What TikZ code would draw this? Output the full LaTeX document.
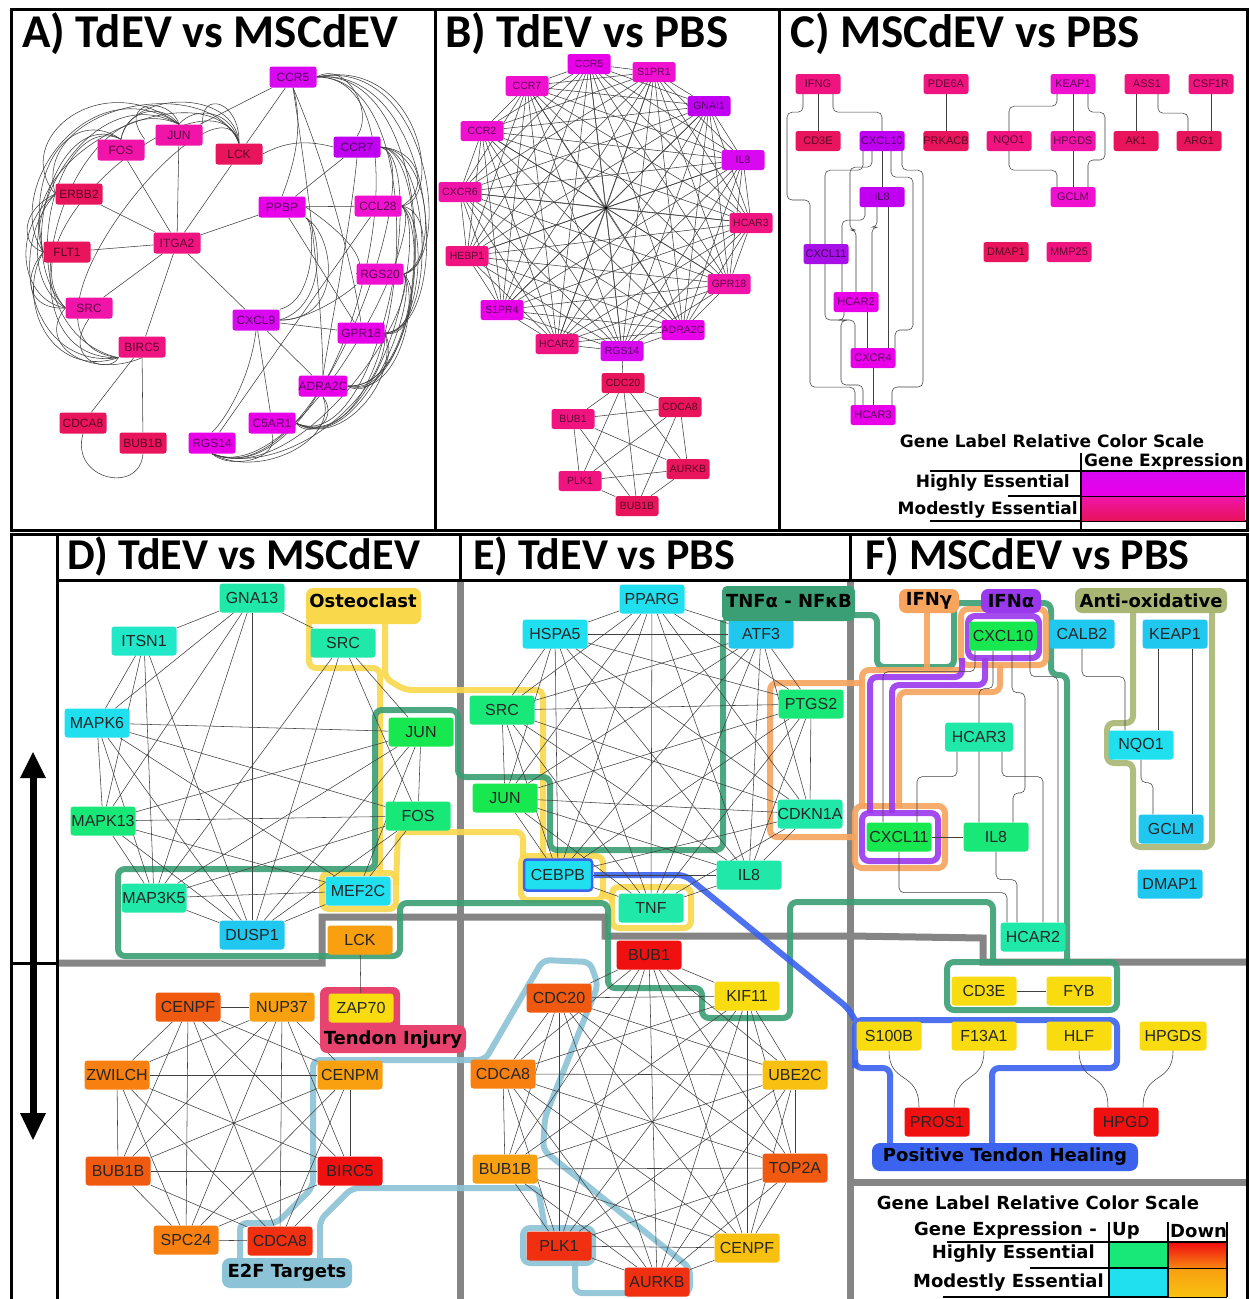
\documentclass[tikz,border=0pt]{standalone}
\usepackage{fontspec}
\setmainfont{Liberation Sans}
\newfontfamily\ttlfont{Carlito}
\newfontfamily\lblfont{DejaVu Sans}
\usetikzlibrary{calc}
\pgfdeclarelayer{bg}
\pgfdeclarelayer{hl}
\pgfdeclarelayer{edges}
\pgfsetlayers{bg,hl,edges,main}
% magenta scale
\definecolor{m0}{HTML}{A810E8}
\definecolor{m1}{HTML}{C000F0}
\definecolor{m2}{HTML}{D808F0}
\definecolor{m3}{HTML}{E800E8}
\definecolor{m4}{HTML}{F010D0}
\definecolor{m5}{HTML}{F014A8}
\definecolor{m6}{HTML}{F01480}
\definecolor{m7}{HTML}{E8145C}
% up scale
\definecolor{uG}{HTML}{18E850}
\definecolor{uG2}{HTML}{18E878}
\definecolor{uT}{HTML}{20E8A8}
\definecolor{uT2}{HTML}{20E8C8}
\definecolor{uC}{HTML}{20E0F0}
\definecolor{uB}{HTML}{20C8F0}
% down scale
\definecolor{dR}{HTML}{F01010}
\definecolor{dR2}{HTML}{F03010}
\definecolor{dO}{HTML}{F05A10}
\definecolor{dO2}{HTML}{F88010}
\definecolor{dO3}{HTML}{F8A010}
\definecolor{dY}{HTML}{F8C010}
\definecolor{dY2}{HTML}{F8DC10}
% highlight colours
\definecolor{yel}{HTML}{F9D84C}
\definecolor{grn}{HTML}{3A9F74}
\definecolor{org}{HTML}{F6A45E}
\definecolor{pur}{HTML}{9A38EE}
\definecolor{oli}{HTML}{A9B673}
\definecolor{blu}{HTML}{3B63EE}
\definecolor{lbl}{HTML}{8CC3D6}
\definecolor{pnk}{HTML}{E8436E}
\newcommand\kgraph[1]{\foreach \a [count=\i] in {#1}{\foreach \b [count=\j] in {#1}{\ifnum\j>\i \draw[ed] (\a)--(\b);\fi}}}
\tikzset{
  gA/.style={rectangle,rounded corners=2.5pt,minimum width=47pt,minimum height=21pt,inner sep=0pt,fill=#1,text=#1!40!black,font=\fontsize{12}{12}\selectfont},
  gB/.style={gA=#1,minimum width=43pt,minimum height=20pt,font=\fontsize{10.5}{10.5}\selectfont},
  gC/.style={gA=#1,minimum width=45pt,minimum height=20pt,font=\fontsize{11}{11}\selectfont},
  gD/.style={rectangle,rounded corners=3pt,minimum width=65pt,minimum height=29pt,inner sep=0pt,fill=#1,text=black!85,font=\fontsize{16}{16}\selectfont},
  ed/.style={draw=black!75,line width=0.55pt},
  oe/.style={ed,rounded corners=5pt},
  hlp/.style={draw=#1,line width=6pt,rounded corners=7pt,line join=round,opacity=0.9},
  lbt/.style={inner sep=0pt,font=\lblfont\bfseries\fontsize{18}{18}\selectfont},
  lgt/.style={inner sep=0pt,font=\lblfont\bfseries\fontsize{#1}{#1}\selectfont},
  ttl/.style={anchor=west,inner sep=0pt,font=\ttlfont\bfseries\fontsize{#1}{#1}\selectfont},
  gry/.style={draw=black!48,line width=7pt},
  blk/.style={draw=black,line width=3pt},
}
\begin{document}
\begin{tikzpicture}[x=1pt,y=-1pt]
\useasboundingbox (0,0) rectangle (1250,1299);
\begin{pgfonlayer}{bg}
\fill[white] (0,0) rectangle (1250,1299);
\end{pgfonlayer}

% ---------------- frames ----------------
\draw[blk] (11,9) rectangle (1247,530);
\draw[blk] (435,9) -- (435,530);
\draw[blk] (779,9) -- (779,530);
\draw[blk] (11,1299) -- (11,534) -- (1247,534) -- (1247,1299);
\draw[blk] (57,534) -- (57,1299);
\draw[blk] (57,580) -- (1247,580);
\draw[blk] (460,534) -- (460,580);
\draw[blk] (850,534) -- (850,580);
\draw[blk] (11,963) -- (57,963);
% arrows in left strip
\fill (29.5,963) rectangle (36.5,776);
\fill (33,752) -- (20,778) -- (46,778) -- cycle;
\fill (29.5,963) rectangle (36.5,1115);
\fill (33,1140) -- (20,1113) -- (46,1113) -- cycle;

% titles
\node[ttl=47] (tA) at (22,34) {A) TdEV vs MSCdEV};
\node[ttl=47] (tB) at (445,34) {B) TdEV vs PBS};
\node[ttl=47] (tC) at (790,34) {C) MSCdEV vs PBS};
\node[ttl=44] (tD) at (67,556) {D) TdEV vs MSCdEV};
\node[ttl=44] (tE) at (473,556) {E) TdEV vs PBS};
\node[ttl=44] (tF) at (865,556) {F) MSCdEV vs PBS};

% ---------------- panel A nodes ----------------
\node[gA=m2] (accr5) at (293,77) {CCR5};
\node[gA=m5] (ajun) at (179,135) {JUN};
\node[gA=m5] (afos) at (121,150) {FOS};
\node[gA=m7] (alck) at (239,154) {LCK};
\node[gA=m1] (accr7) at (357,147) {CCR7};
\node[gA=m7] (aerbb2) at (79,194) {ERBB2};
\node[gA=m3] (appbp) at (282,207) {PPBP};
\node[gA=m4] (accl28) at (378,206) {CCL28};
\node[gA=m6] (aitga2) at (177,243) {ITGA2};
\node[gA=m7] (aflt1) at (67,252) {FLT1};
\node[gA=m4] (args20) at (380,274) {RGS20};
\node[gA=m5] (asrc) at (89,308) {SRC};
\node[gA=m2] (acxcl9) at (256,320) {CXCL9};
\node[gA=m3] (agpr18) at (361,333) {GPR18};
\node[gA=m6] (abirc5) at (142,347) {BIRC5};
\node[gA=m3] (aadra2c) at (323,386) {ADRA2C};
\node[gA=m7] (acdca8) at (83,423) {CDCA8};
\node[gA=m3] (ac5ar1) at (272,423) {C5AR1};
\node[gA=m7] (abub1b) at (143,443) {BUB1B};
\node[gA=m3] (args14) at (212,443) {RGS14};

% ---------------- panel B nodes ----------------
\node[gB=m3] (bccr5) at (589,64) {CCR5};
\node[gB=m4] (bs1pr1) at (654,72) {S1PR1};
\node[gB=m4] (bccr7) at (527,86) {CCR7};
\node[gB=m1] (bgnai1) at (709,106) {GNAI1};
\node[gB=m4] (bccr2) at (482,131) {CCR2};
\node[gB=m2] (bil8) at (743,160) {IL8};
\node[gB=m5] (bcxcr6) at (460,192) {CXCR6};
\node[gB=m6] (bhcar3) at (751,223) {HCAR3};
\node[gB=m6] (bhebp1) at (467,256) {HEBP1};
\node[gB=m5] (bgpr18) at (729,284) {GPR18};
\node[gB=m3] (bs1pr4) at (502,310) {S1PR4};
\node[gB=m3] (badra2c) at (683,330) {ADRA2C};
\node[gB=m6] (bhcar2) at (557,344) {HCAR2};
\node[gB=m2] (brgs14) at (622,351) {RGS14};
\node[gB=m7] (bcdc20) at (623,383) {CDC20};
\node[gB=m7] (bcdca8) at (680,407) {CDCA8};
\node[gB=m6] (bbub1) at (573,419) {BUB1};
\node[gB=m7] (baurkb) at (688,469) {AURKB};
\node[gB=m6] (bplk1) at (580,481) {PLK1};
\node[gB=m7] (bbub1b) at (637,506) {BUB1B};
\coordinate (bhub) at (606,208);

% ---------------- panel C nodes ----------------
\node[gC=m6] (cifng) at (818,84) {IFNG};
\node[gC=m6] (cpde6a) at (946,84) {PDE6A};
\node[gC=m4] (ckeap1) at (1073,84) {KEAP1};
\node[gC=m6] (cass1) at (1147,84) {ASS1};
\node[gC=m6] (ccsf1r) at (1211,84) {CSF1R};
\node[gC=m7] (ccd3e) at (818,141) {CD3E};
\node[gC=m1] (ccxcl10) at (882,141) {CXCL10};
\node[gC=m7] (cprkacb) at (946,141) {PRKACB};
\node[gC=m6] (cnqo1) at (1009,141) {NQO1};
\node[gC=m5] (chpgds) at (1073,141) {HPGDS};
\node[gC=m7] (cak1) at (1136,141) {AK1};
\node[gC=m7] (carg1) at (1199,141) {ARG1};
\node[gC=m1] (cil8) at (882,197) {IL8};
\node[gC=m4] (cgclm) at (1073,197) {GCLM};
\node[gC=m0] (ccxcl11) at (826,254) {CXCL11};
\node[gC=m7] (cdmap1) at (1006,252) {DMAP1};
\node[gC=m6] (cmmp25) at (1069,252) {MMP25};
\node[gC=m3] (chcar2) at (856,302) {HCAR2};
\node[gC=m3] (ccxcr4) at (873,358) {CXCR4};
\node[gC=m3] (chcar3) at (873,415) {HCAR3};

% C legend
\node[lgt=17] (cleg) at (1052,441) {Gene Label Relative Color Scale};
\node[lgt=17,anchor=west] (cgexp) at (1084,462) {Gene Expression};
\draw[line width=1.5pt] (1081,453) -- (1081,530);
\draw[line width=1.5pt] (930,471) -- (1247,471);
\node[lgt=17,anchor=east] (chigh) at (1070,483) {Highly Essential};
\draw[line width=1.5pt] (1008,496) -- (1247,496);
\node[lgt=17,anchor=east] (cmod) at (1078,510) {Modestly Essential};
\draw[line width=1.5pt] (930,521) -- (1247,521);
\shade[top color=m2,bottom color=m3] (1082,472) rectangle (1245,495);
\shade[top color=m5,bottom color=m7] (1082,497) rectangle (1245,520);

% ---------------- panel D nodes ----------------
\node[gD=uT] (dgna13) at (252,598) {GNA13};
\node[gD=uT2] (ditsn1) at (144,641) {ITSN1};
\node[gD=uT] (dsrc) at (343,643) {SRC};
\node[gD=uC] (dmapk6) at (97,723) {MAPK6};
\node[gD=uG] (djun) at (421,732) {JUN};
\node[gD=uG2] (dmapk13) at (103,821) {MAPK13};
\node[gD=uG2] (dfos) at (418,816) {FOS};
\node[gD=uT] (dmap3k5) at (154,898) {MAP3K5};
\node[gD=uC] (dmef2c) at (358,891) {MEF2C};
\node[gD=uB] (ddusp1) at (252,935) {DUSP1};
\node[gD=dO3] (dlck) at (360,940) {LCK};
\node[gD=dO] (dcenpf) at (188,1007) {CENPF};
\node[gD=dO3] (dnup37) at (282,1007) {NUP37};
\node[gD=dO2] (dzwilch) at (117,1075) {ZWILCH};
\node[gD=dO3] (dcenpm) at (350,1075) {CENPM};
\node[gD=dO] (dbub1b) at (118,1171) {BUB1B};
\node[gD=dR] (dbirc5) at (350,1171) {BIRC5};
\node[gD=dO2] (dspc24) at (186,1240) {SPC24};
\node[gD=dR2] (dcdca8) at (280,1241) {CDCA8};

% ---------------- panel E nodes ----------------
\node[gD=uC] (epparg) at (652,599) {PPARG};
\node[gD=uC] (ehspa5) at (555,634) {HSPA5};
\node[gD=uB] (eatf3) at (761,634) {ATF3};
\node[gD=uG2] (esrc) at (502,710) {SRC};
\node[gD=uG2] (eptgs2) at (811,704) {PTGS2};
\node[gD=uG] (ejun) at (505,798) {JUN};
\node[gD=uT] (ecdkn1a) at (810,814) {CDKN1A};
\node[gD=uC,draw=blu,line width=2.5pt,minimum width=68pt,minimum height=31pt] (ecebpb) at (558,875) {CEBPB};
\node[gD=uT] (eil8) at (749,875) {IL8};
\node[gD=uT] (etnf) at (651,908) {TNF};
\node[gD=dR] (ebub1) at (649,955) {BUB1};
\node[gD=dO] (ecdc20) at (559,998) {CDC20};
\node[gD=dY2] (ekif11) at (747,996) {KIF11};
\node[gD=dO2] (ecdca8) at (503,1074) {CDCA8};
\node[gD=dY] (eube2c) at (795,1075) {UBE2C};
\node[gD=dO3] (ebub1b) at (505,1169) {BUB1B};
\node[gD=dO] (etop2a) at (795,1168) {TOP2A};
\node[gD=dR2] (eplk1) at (559,1246) {PLK1};
\node[gD=dY] (ecenpf) at (747,1248) {CENPF};
\node[gD=dR2] (eaurkb) at (657,1282) {AURKB};

% ---------------- panel F nodes ----------------
\node[gD=uG,minimum width=68pt] (fcxcl10) at (1003,636) {CXCL10};
\node[gD=uB] (fcalb2) at (1082,634) {CALB2};
\node[gD=uB] (fkeap1) at (1175,634) {KEAP1};
\node[gD=uT,minimum width=68pt] (fhcar3) at (979,737) {HCAR3};
\node[gD=uC] (fnqo1) at (1141,745) {NQO1};
\node[gD=uG] (fcxcl11) at (899,837) {CXCL11};
\node[gD=uG2] (fil8) at (996,837) {IL8};
\node[gD=uB] (fgclm) at (1171,829) {GCLM};
\node[gD=uB] (fdmap1) at (1170,884) {DMAP1};
\node[gD=uT] (fhcar2) at (1033,937) {HCAR2};
\node[gD=dY2] (fcd3e) at (984,991) {CD3E};
\node[gD=dY2] (ffyb) at (1079,991) {FYB};
\node[gD=dY2] (fs100b) at (889,1036) {S100B};
\node[gD=dY2] (ff13a1) at (984,1036) {F13A1};
\node[gD=dY2] (fhlf) at (1079,1036) {HLF};
\node[gD=dY2,minimum width=67pt] (fhpgds) at (1173,1036) {HPGDS};
\node[gD=dR] (fpros1) at (937,1122) {PROS1};
\node[gD=dR] (fhpgd) at (1126,1122) {HPGD};

% F legend
\node[lgt=18] (fleg) at (1038,1203) {Gene Label Relative Color Scale};
\node[lgt=18,anchor=east] (fgexp) at (1097,1231) {Gene Expression -};
\node[lgt=18,anchor=west] (fup) at (1112,1231) {Up};
\node[lgt=18,anchor=west] (fdown) at (1170,1231) {Down};
\draw[line width=1.5pt] (1109,1222) -- (1109,1297);
\draw[line width=1.5pt] (1168,1222) -- (1168,1297);
\draw[line width=1.5pt] (1227,1222) -- (1227,1297);
\draw[line width=1.5pt] (947,1242) -- (1227,1242);
\node[lgt=18,anchor=east] (fhigh) at (1095,1254) {Highly Essential};
\draw[line width=1.5pt] (1030,1268) -- (1227,1268);
\node[lgt=18,anchor=east] (fmod) at (1104,1283) {Modestly Essential};
\draw[line width=1.5pt] (943,1297) -- (1227,1297);
\fill[uG2] (1110,1243) rectangle (1167,1267);
\shade[top color=dR,bottom color=dO2] (1169,1243) rectangle (1226,1267);
\fill[uC] (1110,1269) rectangle (1167,1296);
\shade[top color=dO3,bottom color=dY] (1169,1269) rectangle (1226,1296);

% ---------------- highlight and gray lines ----------------
\begin{pgfonlayer}{hl}
\draw[gry] (460,580) -- (460,1299);
\draw[gry] (850,580) -- (850,1299);
\draw[gry] (57,963) -- (322,963) -- (322,917) -- (605,917) -- (605,936) -- (850,936) -- (983,938) -- (983,962) -- (1247,962);
\draw[gry] (850,1182) -- (1247,1182);
% yellow (osteoclast)
\draw[hlp=yel] (309,620) -- (309,668) -- (380,668) -- (380,873);
\draw[hlp=yel] (322,873) rectangle (396,909);
\draw[hlp=yel] (396,885) -- (398,832) -- (523,832) -- (523,858);
\draw[hlp=yel] (385,620) -- (385,678) -- (405,690) -- (543,690) -- (543,858);
\draw[hlp=yel] (521,856) rectangle (603,900);
\draw[hlp=yel] (600,893) -- (614,900);
\draw[hlp=yel] (612,887) rectangle (691,928);
% green (TNFa - NFkB)
\draw[hlp=grn] (723,620) -- (723,850) -- (550,850) -- (550,777) -- (458,777) -- (458,710) -- (375,710) -- (375,869) -- (118,869) -- (118,956) -- (400,956) -- (400,903) -- (608,903) -- (608,988) -- (702,988) -- (702,1018) -- (790,1018) -- (790,902) -- (993,902) -- (993,962);
\draw[hlp=grn] (947,962) rectangle (1117,1010);
\draw[hlp=grn] (852,615) -- (877,615) -- (877,667) -- (954,667) -- (954,603) -- (1051,603) -- (1051,675) -- (1067,675) -- (1067,962);
% orange (IFNg)
\draw[hlp=org] (927,612) -- (927,670);
\draw[hlp=org] (961,670) -- (862,670) -- (862,808);
\draw[hlp=org] (862,683) -- (770,683) -- (770,837) -- (856,837);
\draw[hlp=org] (961,609) rectangle (1046,665);
\draw[hlp=org] (1000,665) -- (1000,692) -- (899,692) -- (899,808);
\draw[hlp=org] (855,806) rectangle (945,868);
% purple (IFNa)
\draw[hlp=pur] (968,616) rectangle (1039,658);
\draw[hlp=pur] (962,658) -- (962,677) -- (870,677) -- (870,813);
\draw[hlp=pur] (985,658) -- (985,685) -- (892,685) -- (892,813);
\draw[hlp=pur] (862,813) rectangle (938,861);
% olive (anti-oxidative)
\draw[hlp=oli] (1133,612) -- (1133,723) -- (1107,723) -- (1107,763) -- (1133,763) -- (1133,847) -- (1212,847) -- (1212,612);
% blue (positive tendon healing)
\draw[hlp=blu] (594,875) -- (685,875) -- (848,1008) -- (855,1020);
\draw[hlp=blu] (855,1068) -- (855,1020) -- (1117,1020) -- (1117,1068) -- (992,1068) -- (992,1145);
\draw[hlp=blu] (855,1060) -- (855,1068) -- (890,1068) -- (890,1145);
% light blue (E2F targets)
\draw[hlp=lbl] (240,1262) -- (240,1223) -- (277,1223) -- (313,1187) -- (313,1060) -- (485,1060) -- (543,960) -- (590,962) -- (598,985) -- (545,1117) -- (543,1150) -- (690,1268) -- (690,1293) -- (575,1293) -- (575,1262);
\draw[hlp=lbl] (320,1262) -- (320,1220) -- (352,1188) -- (538,1188) -- (545,1228);
\draw[hlp=lbl] (523,1228) rectangle (593,1263);
% pink (tendon injury)
\fill[pnk,rounded corners=7pt] (320,987) rectangle (400,1045);
\end{pgfonlayer}

% label boxes
\fill[yel,rounded corners=7pt] (306,588) rectangle (421,624);
\node[lbt] (losteo) at (363,601) {Osteoclast};
\fill[grn,rounded corners=5pt] (722,586) rectangle (855,621);
\node[lbt] (ltnf) at (789,601) {TNFα - NFκB};
\fill[org,rounded corners=7pt] (899,589) rectangle (959,613);
\node[lbt] (lifng) at (929,601) {IFNγ};
\fill[pur,rounded corners=7pt] (981,589) rectangle (1041,613);
\node[lbt] (lifna) at (1011,601) {IFNα};
\fill[oli,rounded corners=7pt] (1075,588) rectangle (1227,613);
\node[lbt] (lanti) at (1151,601) {Anti-oxidative};
\fill[blu,rounded corners=8pt] (872,1143) rectangle (1138,1171);
\node[lbt] (lpos) at (1005,1157) {Positive Tendon Healing};
\fill[lbl,rounded corners=8pt] (222,1258) rectangle (352,1288);
\node[lbt] (le2f) at (287,1273) {E2F Targets};
\fill[pnk,rounded corners=7pt] (320,1025) rectangle (466,1053);
\node[lbt] (linj) at (393,1040) {Tendon Injury};
\node[gD=dY2] (dzap70) at (361,1008) {ZAP70};

% ---------------- edges ----------------
\begin{pgfonlayer}{edges}
% A straight
\foreach \n in {afos,ajun,alck,aerbb2,aflt1,asrc,abirc5,acxcl9,appbp} \draw[ed] (aitga2) -- (\n);
\draw[ed] (accr5) -- (ajun);
\draw[ed] (accr5) -- (alck);
\draw[ed] (accr5.south) .. controls (305,130) and (292,170) .. (appbp.north);
\draw[ed] (accr5.south) .. controls (310,200) and (322,300) .. (aadra2c.north);
\draw[ed] (accr5.south) .. controls (320,150) and (350,250) .. (agpr18.north);
\draw[ed] (accr7.west) .. controls (300,138) and (280,145) .. (alck.east);
\draw[ed] (accr7) -- (appbp);
\draw[ed] (accr7.south) .. controls (350,230) and (330,330) .. (aadra2c.north);
\draw[ed] (accl28) -- (args14);
\draw[ed] (appbp) -- (accl28);
\draw[ed] (appbp) -- (agpr18);
\draw[ed] (appbp.east) .. controls (340,230) and (370,260) .. (args20.west);
\draw[ed] (appbp.south east) .. controls (320,225) and (330,305) .. (acxcl9.east);
\draw[ed] (appbp.south east) .. controls (335,235) and (345,320) .. (acxcl9.east);
\draw[ed] (appbp.south east) .. controls (315,220) and (318,300) .. (acxcl9.north east);
\draw[ed] (args20.south west) .. controls (340,300) and (300,322) .. (acxcl9.east);
\draw[ed] (acxcl9) -- (agpr18);
\draw[ed] (acxcl9) -- (aadra2c);
\draw[ed] (acxcl9) -- (ac5ar1);
\draw[ed] (acxcl9.south) .. controls (250,380) and (225,420) .. (args14.north);
\draw[ed] (abirc5) -- (abub1b);
\draw[ed] (abirc5) -- (acdca8);
\draw[ed] (acdca8.south) .. controls (70,480) and (140,495) .. (abub1b.south);
% A left bundle
\draw[ed] (ajun.north) .. controls (100,65) and (10,140) .. (aerbb2.west);
\draw[ed] (ajun.north) .. controls (90,65) and (0,190) .. (aflt1.west);
\draw[ed] (ajun.north) .. controls (80,70) and (-10,260) .. (asrc.west);
\draw[ed] (ajun.north) .. controls (70,75) and (-15,360) .. (abirc5.south west);
\draw[ed] (alck.north) .. controls (210,70) and (30,105) .. (aerbb2.west);
\draw[ed] (alck.north) .. controls (210,65) and (5,150) .. (aflt1.west);
\draw[ed] (alck.north) .. controls (215,60) and (-5,230) .. (asrc.west);
\draw[ed] (alck.north) .. controls (220,60) and (-15,340) .. (abirc5.south west);
\draw[ed] (afos.north) .. controls (70,105) and (25,170) .. (aflt1.west);
\draw[ed] (afos.north) .. controls (60,105) and (10,250) .. (asrc.west);
\draw[ed] (afos.north) .. controls (50,105) and (0,330) .. (abirc5.south west);
\draw[ed] (ajun.north) .. controls (160,100) and (125,112) .. (afos.north);
\draw[ed] (ajun.north) .. controls (170,95) and (115,100) .. (afos.north east);
\draw[ed] (alck.north) .. controls (232,110) and (195,105) .. (ajun.north);
\draw[ed] (alck.north) .. controls (240,100) and (200,90) .. (ajun.north east);
\draw[ed] (afos.north) .. controls (130,90) and (235,88) .. (alck.north);
\draw[ed] (aerbb2.west) .. controls (20,210) and (20,245) .. (aflt1.west);
\draw[ed] (aerbb2.west) .. controls (10,230) and (20,300) .. (asrc.west);
\draw[ed] (aerbb2.west) .. controls (5,250) and (30,370) .. (abirc5.south west);
\draw[ed] (aflt1.west) .. controls (20,280) and (30,310) .. (asrc.west);
\draw[ed] (aflt1.west) .. controls (15,300) and (50,380) .. (abirc5.south west);
\draw[ed] (asrc.south) .. controls (60,360) and (110,375) .. (abirc5.south west);
\draw[ed] (asrc.west) .. controls (35,345) and (90,380) .. (abirc5.south);
% A right bundle
\draw[ed] (accr5.east) .. controls (345,60) and (375,110) .. (accr7.north);
\draw[ed] (accr5.east) .. controls (420,55) and (445,200) .. (accl28.east);
\draw[ed] (accr5.east) .. controls (430,55) and (455,260) .. (args20.east);
\draw[ed] (accr5.east) .. controls (440,65) and (455,330) .. (agpr18.east);
\draw[ed] (accr5.east) .. controls (440,65) and (445,390) .. (aadra2c.east);
\draw[ed] (accr5.east) .. controls (445,75) and (405,475) .. (ac5ar1.east);
\draw[ed] (accr5.east) .. controls (445,75) and (345,505) .. (args14.south);
\draw[ed] (accr7.east) .. controls (420,150) and (430,190) .. (accl28.east);
\draw[ed] (accr7.east) .. controls (430,150) and (440,260) .. (args20.east);
\draw[ed] (accr7.east) .. controls (430,150) and (440,330) .. (agpr18.east);
\draw[ed] (accr7.east) .. controls (430,150) and (430,390) .. (aadra2c.east);
\draw[ed] (accr7.east) .. controls (430,160) and (380,460) .. (ac5ar1.east);
\draw[ed] (accr7.east) .. controls (430,160) and (320,500) .. (args14.south);
\draw[ed] (accl28.east) .. controls (430,210) and (430,270) .. (args20.east);
\draw[ed] (accl28.east) .. controls (430,220) and (420,340) .. (agpr18.east);
\draw[ed] (accl28.east) .. controls (430,230) and (410,400) .. (aadra2c.east);
\draw[ed] (accl28.east) .. controls (430,230) and (380,460) .. (ac5ar1.east);
\draw[ed] (accl28.east) .. controls (430,230) and (300,490) .. (args14.south);
\draw[ed] (args20.east) .. controls (420,290) and (410,340) .. (agpr18.east);
\draw[ed] (args20.east) .. controls (420,300) and (400,400) .. (aadra2c.east);
\draw[ed] (args20.east) .. controls (420,300) and (360,460) .. (ac5ar1.east);
\draw[ed] (args20.east) .. controls (420,310) and (300,490) .. (args14.south);
\draw[ed] (agpr18.east) .. controls (400,360) and (370,400) .. (aadra2c.east);
\draw[ed] (agpr18.east) .. controls (400,380) and (340,450) .. (ac5ar1.east);
\draw[ed] (agpr18.east) .. controls (390,390) and (290,480) .. (args14.south);
\draw[ed] (aadra2c.south) .. controls (340,420) and (310,440) .. (ac5ar1.east);
\draw[ed] (aadra2c.south) .. controls (340,440) and (260,480) .. (args14.south);
\draw[ed] (ac5ar1.south) .. controls (280,460) and (230,470) .. (args14.south);
% B
\kgraph{bccr5,bs1pr1,bccr7,bgnai1,bccr2,bil8,bcxcr6,bhcar3,bhebp1,bgpr18,bs1pr4,badra2c,bhcar2,brgs14}
\foreach \n in {bccr5,bs1pr1,bccr7,bgnai1,bccr2,bil8,bcxcr6,bhcar3,bhebp1,bgpr18,bs1pr4,badra2c,bhcar2,brgs14} \draw[ed] (bhub) -- (\n);
\fill (bhub) circle (1.6pt);
\draw[ed] (brgs14) -- (bcdc20);
\kgraph{bcdc20,bcdca8,bbub1,baurkb,bplk1,bbub1b}
% C
\draw[ed] (cifng) -- (ccd3e);
\draw[oe] ([xshift=15pt]cifng.south) -- ++(0,18) -| (ccxcl10.north);
\draw[oe] ([xshift=-15pt]cifng.south) -- ++(0,18) -| (787,200) -| ([xshift=-16pt]ccxcl11.north);
\draw[ed] (cpde6a) -- (cprkacb);
\draw[oe] ([xshift=-19pt]ccxcl10.south) -- ++(0,19) -| (825,320) -| ([xshift=-18pt]ccxcr4.north);
\draw[oe] ([xshift=-10pt]ccxcl10.south) -- ++(0,16) -| (850,230) -| (chcar2.north);
\draw[ed] (ccxcl10) -- (cil8);
\draw[oe] ([xshift=9pt]ccxcl10.south) -- ++(0,26) -| (913,330) -| ([xshift=22pt]ccxcr4.north);
\draw[oe] ([xshift=20pt]ccxcl10.south) -- ++(0,19) -| (923,387) -| ([xshift=19pt]chcar3.north);
\draw[oe] ([xshift=-17pt]cil8.south) -- ++(0,13) -| ([xshift=-14pt]chcar2.north);
\draw[oe] ([xshift=-5pt]cil8.south) -- ++(0,20) -| ([xshift=16pt]chcar2.north);
\draw[ed] ([xshift=6pt]cil8.south) -- ([xshift=15pt]ccxcr4.north);
\draw[oe] ([xshift=-12pt]chcar2.south) -- ++(0,8) -| (841,385) -| ([xshift=-10pt]chcar3.north);
\draw[ed] ([xshift=11pt]chcar2.south) -- ([xshift=-6pt]ccxcr4.north);
\draw[ed] (ccxcr4) -- (chcar3);
\draw[oe] ([xshift=-16pt]ccxcl11.south) -- ++(0,123) -| ([xshift=-18pt]chcar3.north);
\draw[oe] ([xshift=-16pt]ckeap1.south) -- ++(0,12) -| (cnqo1.north);
\draw[ed] (ckeap1) -- (chpgds);
\draw[ed] (chpgds) -- (cgclm);
\draw[oe] ([xshift=15pt]ckeap1.south) -- ++(0,18) -| (1105,160) -| ([xshift=15pt]cgclm.north);
\draw[oe] (cnqo1.south) -- ++(0,19) -| ([xshift=-16pt]cgclm.north);
\draw[ed] ([xshift=-11pt]cass1.south) -- (cak1.north);
\draw[oe] ([xshift=11pt]cass1.south) -- ++(0,19) -| ([xshift=-11pt]carg1.north);
\draw[ed] (ccsf1r.south) -- ([xshift=12pt]carg1.north);
% D
\foreach \p/\q in {dgna13/ditsn1,dgna13/dsrc,dgna13/dmapk6,dgna13/dmap3k5,dgna13/ddusp1,dgna13/dmapk13,
 ditsn1/dmapk6,ditsn1/dmapk13,ditsn1/dmap3k5,ditsn1/ddusp1,
 dmapk6/djun,dmapk6/dfos,dmapk6/dmef2c,dmapk6/dmap3k5,dmapk6/ddusp1,dmapk6/dmapk13,
 dmapk13/djun,dmapk13/dfos,dmapk13/dmef2c,dmapk13/dmap3k5,dmapk13/ddusp1,
 dsrc/djun,dsrc/dfos,dsrc/ddusp1,dsrc/dmap3k5,
 djun/dfos,djun/dmef2c,djun/dmap3k5,djun/ddusp1,
 dfos/dmef2c,dfos/dmap3k5,dfos/ddusp1,
 dmef2c/dmap3k5,dmef2c/ddusp1,dmap3k5/ddusp1,dlck/dzap70} \draw[ed] (\p) -- (\q);
\kgraph{dcenpf,dnup37,dzwilch,dcenpm,dbub1b,dbirc5,dspc24,dcdca8}
% E
\kgraph{epparg,ehspa5,eatf3,esrc,eptgs2,ejun,ecdkn1a,ecebpb,eil8,etnf}
\kgraph{ebub1,ecdc20,ekif11,ecdca8,eube2c,ebub1b,etop2a,eplk1,ecenpf,eaurkb}
% F
\draw[oe] ([xshift=-28pt]fcxcl10.south) -- ++(0,21) -| ([xshift=-16pt]fcxcl11.north);
\draw[oe] ([xshift=-22pt]fhcar3.south) -- ++(0,25) -| ([xshift=18pt]fcxcl11.north);
\draw[oe] ([xshift=-10pt]fcxcl10.south) -- ++(0,38) -| ([xshift=-17pt]fil8.north);
\draw[oe] ([xshift=9pt]fcxcl10.south) -- ++(0,42) -| (1025,793) -| ([xshift=17pt]fil8.north);
\draw[oe] ([xshift=27pt]fcxcl10.south) -- ++(0,26) -| ([xshift=25pt]fhcar2.north);
\draw[oe] ([xshift=23pt]fhcar3.south) -- ++(0,25) -| ([xshift=10pt]fhcar2.north);
\draw[oe] (fcxcl11.south) -- ++(0,41) -| ([xshift=-26pt]fhcar2.north);
\draw[oe] (fil8.south) -- ++(0,28) -| ([xshift=-16pt]fhcar2.north);
\draw[ed] (fcxcl11) -- (fil8);
\draw[oe] (fcalb2.south) -- ++(0,28) -| ([xshift=-16pt]fnqo1.north);
\draw[ed] ([xshift=-17pt]fkeap1.south) -- ([xshift=17pt]fnqo1.north);
\draw[ed] ([xshift=17pt]fkeap1.south) -- ([xshift=21pt]fgclm.north);
\draw[oe] (fnqo1.south) -- ++(0,23) -| ([xshift=-18pt]fgclm.north);
\draw[ed] (fcd3e) -- (ffyb);
\draw[ed] (fs100b.south) .. controls (889,1085) and (919,1070) .. ([xshift=-18pt]fpros1.north);
\draw[ed] (ff13a1.south) .. controls (984,1085) and (955,1070) .. ([xshift=17pt]fpros1.north);
\draw[ed] (fhlf.south) .. controls (1079,1085) and (1108,1070) .. ([xshift=-18pt]fhpgd.north);
\draw[ed] (fhpgds.south) .. controls (1173,1085) and (1143,1070) .. ([xshift=17pt]fhpgd.north);
\end{pgfonlayer}
\end{tikzpicture}
\end{document}
